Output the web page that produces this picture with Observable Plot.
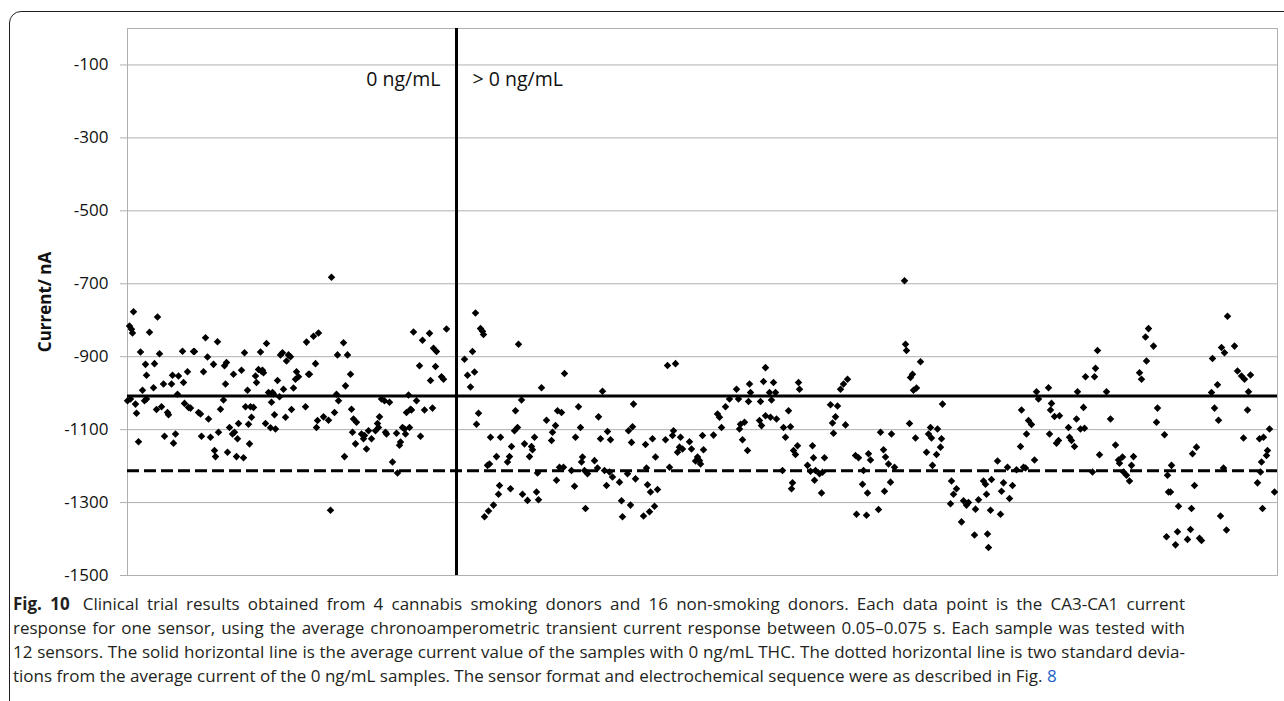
<!DOCTYPE html>
<html>
<head>
<meta charset="utf-8">
<script src="https://cdn.jsdelivr.net/npm/d3@7"></script>
<script src="https://cdn.jsdelivr.net/npm/@observablehq/plot@0.6"></script>
<style>
  html, body { margin: 0; padding: 0; background: #fff; }
  body { width: 1284px; height: 701px; overflow: hidden; position: relative; font-family: "Open Sans", sans-serif; }
  #box { position: absolute; left: 9px; top: 11px; width: 1320px; height: 760px; border: 1.5px solid #231f20; border-top-left-radius: 12px; box-sizing: border-box; }
  #chart { position: absolute; left: 0; top: 0; }
  #caption { position: absolute; left: 13px; top: 592px; width: 1172px; font-family: "Open Sans", sans-serif; font-size: 17px; line-height: 24px; color: #231f20; }
  #caption div { white-space: nowrap; }
  #caption span.t { display: inline-block; white-space: nowrap; }
  #caption b { font-weight: 700; margin-right: 5px; }
  #caption a { color: #1f5fbf; text-decoration: none; }
</style>
</head>
<body>
<div id="box"></div>
<div id="chart"></div>
<div id="caption">
  <div><span class="t j"><b>Fig. 10</b> Clinical trial results obtained from 4 cannabis smoking donors and 16 non-smoking donors. Each data point is the CA3-CA1 current</span></div>
  <div><span class="t j">response for one sensor, using the average chronoamperometric transient current response between 0.05–0.075 s. Each sample was tested with</span></div>
  <div><span class="t j">12 sensors. The solid horizontal line is the average current value of the samples with 0 ng/mL THC. The dotted horizontal line is two standard devia-</span></div>
  <div><span class="t">tions from the average current of the 0 ng/mL samples. The sensor format and electrochemical sequence were as described in Fig. <a>8</a></span></div>
</div>
<script>
// ---- data ----
// sequence position along the x axis, current in nA
const zeroNg = [
[0,-1021],[2,-816],[3,-1016],[4,-825],[5,-835],[6,-777],[8,-1030],[9,-1055],[11,-1133],[13,-887],
[15,-992],[17,-1021],[18,-921],[19,-1016],[19,-951],[22,-833],[26,-985],[27,-919],[29,-1045],[30,-791],
[32,-892],[34,-1037],[36,-975],[37,-1118],[40,-1053],[41,-1059],[44,-975],[45,-951],[46,-1137],[48,-1112],
[50,-1003],[51,-953],[55,-885],[56,-971],[57,-1028],[60,-941],[61,-1039],[63,-1041],[66,-886],[67,-886],
[71,-1053],[73,-1057],[74,-1118],[76,-941],[78,-848],[80,-901],[81,-1071],[83,-1121],[86,-921],[87,-1157],
[88,-1174],[90,-859],[91,-1107],[93,-1044],[96,-1019],[97,-925],[98,-975],[99,-916],[100,-1162],[102,-1094],
[105,-1112],[106,-948],[107,-1107],[109,-1174],[110,-1125],[111,-1083],[114,-937],[116,-1177],[117,-889],[118,-1037],
[120,-992],[121,-1085],[122,-1139],[123,-1037],[124,-1066],[126,-1039],[128,-953],[129,-971],[131,-935],[133,-887],
[134,-940],[135,-937],[136,-944],[138,-1083],[139,-864],[141,-998],[143,-1095],[144,-1025],[145,-998],[146,-1002],
[147,-1059],[148,-1098],[150,-965],[152,-1010],[153,-895],[155,-889],[156,-989],[158,-1066],[159,-912],[161,-895],
[163,-900],[164,-1045],[166,-986],[168,-962],[169,-941],[171,-955],[178,-1037],[179,-860],[181,-948],[182,-948],
[186,-844],[188,-919],[189,-1094],[190,-1075],[191,-835],[196,-1065],[201,-1074],[203,-1321],[204,-682],[207,-1053],
[209,-1003],[210,-895],[211,-1021],[216,-862],[217,-1174],[218,-980],[220,-895],[223,-948],[224,-1044],[225,-1107],
[226,-1071],[228,-1139],[229,-1080],[234,-1112],[236,-1125],[237,-1116],[239,-1153],[241,-1103],[244,-1125],[248,-1103],
[250,-1083],[251,-1094],[252,-1065],[254,-1016],[257,-1021],[258,-1107],[259,-1112],[262,-1025],[265,-1189],[269,-1110],
[270,-1219],[272,-1143],[273,-1134],[275,-1094],[277,-1098],[278,-1112],[279,-1053],[281,-1005],[282,-1094],[283,-1044],
[284,-1046],[286,-832],[289,-1021],[292,-925],[293,-1118],[295,-855],[297,-1046],[302,-836],[303,-965],[305,-1041],
[306,-877],[308,-927],[309,-886],[314,-955],[316,-962],[319,-824]
];
const positiveNg = [
[337,-907],[340,-951],[343,-983],[345,-886],[347,-942],[348,-780],[349,-1085],[351,-1055],[353,-823],[355,-830],
[356,-839],[357,-1339],[360,-1198],[361,-1323],[362,-1194],[363,-1121],[366,-1307],[369,-1174],[371,-1277],[372,-1253],
[373,-1121],[380,-1189],[382,-1174],[383,-1262],[384,-1146],[387,-1103],[388,-1048],[390,-1094],[391,-866],[394,-1019],
[395,-1277],[397,-1139],[400,-1294],[402,-1174],[404,-1146],[405,-1155],[407,-1121],[409,-1271],[410,-1219],[411,-1292],
[414,-985],[419,-1074],[424,-1130],[425,-1107],[428,-1089],[429,-1239],[430,-1048],[432,-1203],[434,-1053],[436,-1203],
[437,-946],[444,-1212],[447,-1255],[448,-1121],[451,-1037],[453,-1094],[454,-1189],[455,-1175],[457,-1212],[458,-1316],
[460,-1221],[467,-1185],[470,-1205],[471,-1065],[473,-1125],[475,-995],[477,-1212],[479,-1253],[480,-1105],[482,-1216],
[483,-1128],[485,-1230],[492,-1244],[494,-1295],[495,-1339],[500,-1221],[501,-1103],[503,-1307],[504,-1135],[505,-1092],
[506,-1030],[508,-1235],[516,-1337],[518,-1141],[519,-1205],[520,-1251],[522,-1325],[523,-1271],[525,-1125],[527,-1310],
[528,-1175],[530,-1264],[538,-1128],[540,-924],[542,-1203],[545,-1116],[546,-1103],[548,-919],[550,-1162],[552,-1148],
[553,-1121],[555,-1153],[562,-1133],[564,-1153],[568,-1186],[570,-1175],[572,-1185],[573,-1194],[575,-1116],[576,-1155],
[586,-1115],[590,-1057],[592,-1066],[594,-1094],[598,-1037],[602,-1016],[609,-989],[611,-1016],[612,-1098],[613,-1085],
[615,-1128],[617,-1080],[620,-1157],[621,-1023],[622,-975],[623,-998],[632,-1075],[633,-1023],[634,-1089],[636,-968],
[638,-930],[638,-1062],[642,-998],[643,-1066],[644,-1019],[646,-971],[648,-998],[649,-1071],[655,-1212],[656,-1094],
[658,-1121],[661,-1048],[663,-1092],[664,-1262],[665,-1246],[666,-1157],[668,-1168],[670,-1144],[671,-971],[672,-989],
[680,-1198],[683,-1214],[685,-1144],[686,-1177],[687,-1239],[688,-1212],[692,-1221],[694,-1274],[695,-1217],[697,-1177],
[703,-1032],[705,-1082],[706,-1110],[708,-1065],[710,-1035],[713,-989],[716,-975],[718,-1087],[720,-962],[728,-1171],
[729,-1332],[731,-1177],[735,-1250],[736,-1212],[739,-1335],[740,-1274],[741,-1166],[743,-1183],[751,-1319],[753,-1107],
[756,-1155],[757,-1269],[758,-1175],[761,-1194],[763,-1244],[764,-1112],[767,-1203],[777,-692],[778,-866],[779,-883],
[782,-1083],[783,-957],[785,-948],[786,-992],[788,-1123],[789,-986],[793,-914],[799,-1162],[801,-1112],[803,-1094],
[804,-1123],[805,-1198],[809,-1168],[810,-1098],[813,-1148],[814,-1125],[815,-1030],[823,-1303],[824,-1241],[826,-1277],
[829,-1262],[834,-1353],[836,-1295],[839,-1307],[841,-1300],[847,-1389],[848,-1318],[851,-1292],[856,-1241],[858,-1250],
[859,-1277],[860,-1386],[861,-1423],[863,-1321],[864,-1237],[870,-1186],[873,-1332],[874,-1269],[876,-1246],[880,-1203],
[882,-1289],[885,-1253],[889,-1210],[893,-1146],[894,-1046],[896,-1203],[898,-1205],[899,-1112],[901,-1075],[904,-1086],
[907,-1183],[909,-996],[911,-1016],[921,-985],[922,-1112],[923,-1046],[924,-1028],[927,-1064],[929,-1137],[931,-1130],
[932,-1062],[941,-1094],[942,-1121],[944,-1130],[947,-1146],[949,-1071],[950,-996],[953,-1098],[956,-1039],[957,-1096],
[958,-955],[965,-1216],[967,-955],[968,-932],[970,-883],[972,-1169],[979,-996],[983,-1071],[988,-1142],[991,-1183],
[992,-1192],[995,-1175],[996,-1216],[999,-1225],[1002,-1241],[1004,-1198],[1006,-1174],[1012,-944],[1014,-962],[1018,-846],
[1019,-912],[1021,-823],[1026,-871],[1029,-1080],[1030,-1041],[1037,-1114],[1039,-1394],[1040,-1225],[1041,-1271],[1043,-1271],
[1044,-1198],[1048,-1416],[1050,-1380],[1051,-1310],[1060,-1401],[1063,-1374],[1064,-1316],[1065,-1166],[1067,-1253],[1069,-1148],
[1072,-1398],[1074,-1404],[1084,-998],[1085,-905],[1087,-1041],[1090,-977],[1091,-1074],[1093,-1337],[1094,-875],[1096,-1205],
[1097,-889],[1099,-1375],[1100,-789],[1107,-871],[1110,-939],[1114,-953],[1116,-1123],[1117,-962],[1120,-1046],[1121,-996],
[1123,-950],[1130,-1246],[1132,-1125],[1133,-1216],[1134,-1189],[1135,-1316],[1136,-1121],[1139,-1171],[1140,-1157],[1142,-1098],
[1147,-1271]
];
const yTicks = [-1500, -1300, -1100, -900, -700, -500, -300, -100];
const xDomain = [0, 1150];
const groupBoundary = 329;          // sequence position where >0 ng/mL samples start
const meanZeroNg = -1008;           // average current of 0 ng/mL samples
const twoSdBelowMean = -1213;       // mean minus two standard deviations
const groupLabels = ["0 ng/mL", "> 0 ng/mL"];
const yLabel = "Current/ nA";

const points = [...zeroNg, ...positiveNg].map(([x, y]) => ({x, y}));

const chart = Plot.plot({
  width: 1284,
  height: 592,
  marginLeft: 127,
  marginRight: 7,
  marginTop: 28,
  marginBottom: 17,
  style: {fontFamily: "Open Sans, sans-serif", background: "transparent"},
  x: {domain: xDomain, axis: null},
  y: {domain: [-1500, 0], axis: null},
  marks: [
    Plot.gridY(yTicks, {stroke: "#b0b0b0", strokeOpacity: 1, strokeWidth: 1}),
    Plot.frame({stroke: "#b0b0b0", strokeWidth: 1}),
    Plot.axisY(yTicks, {tickSize: 7, tickPadding: 12, stroke: "#b0b0b0", fill: "#111", fontSize: 17, label: null, tickFormat: d => String(d)}),
    Plot.text([yLabel], {frameAnchor: "left", textAnchor: "middle", dx: -82, rotate: -90, fontWeight: "bold", fontSize: 17, fill: "#111"}),
    Plot.ruleX([groupBoundary], {y1: -1500, y2: 0, stroke: "#000", strokeWidth: 3}),
    Plot.ruleY([meanZeroNg], {stroke: "#000", strokeWidth: 3}),
    Plot.ruleY([twoSdBelowMean], {stroke: "#000", strokeWidth: 3, strokeDasharray: "12,5"}),
    Plot.dot(points, {x: "x", y: "y", symbol: "diamond2", r: 3.4, fill: "#000", stroke: "none"}),
    Plot.text([groupLabels[0]], {x: () => groupBoundary, y: () => -140, textAnchor: "end", dx: -16, fontSize: 19.5, fill: "#111"}),
    Plot.text([groupLabels[1]], {x: () => groupBoundary, y: () => -140, textAnchor: "start", dx: 16, fontSize: 19.5, fill: "#111"})
  ]
});
document.getElementById("chart").appendChild(chart);

// justify caption lines to the full measure (as in the typeset figure)
const measure = 1172;
document.querySelectorAll("#caption span.j").forEach(span => {
  const w = span.getBoundingClientRect().width;
  const spaces = (span.textContent.match(/ /g) || []).length;
  span.style.wordSpacing = ((measure - w) / spaces) + "px";
});
</script>
</body>
</html>
